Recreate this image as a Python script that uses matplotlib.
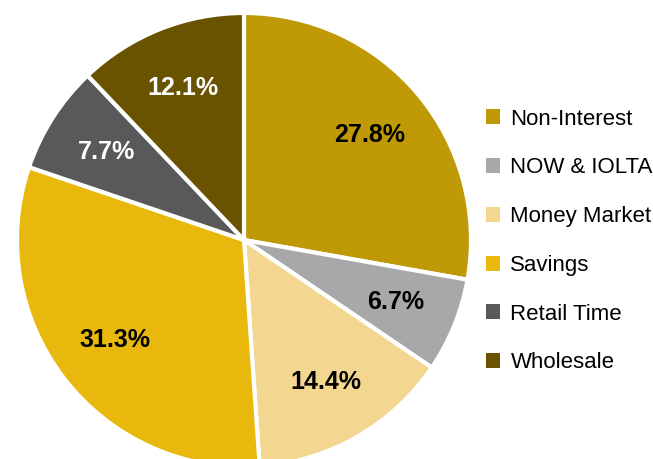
import matplotlib
matplotlib.use("Agg")
import matplotlib.pyplot as plt
from matplotlib.patches import Patch

categories = ["Non-Interest", "NOW & IOLTA", "Money Market", "Savings", "Retail Time", "Wholesale"]
values = [27.8, 6.7, 14.4, 31.3, 7.7, 12.1]
colors = ["#BF9906", "#A8A8AB", "#F3D68F", "#E8B90C", "#59595B", "#6A5300"]
label_colors = ["black", "black", "black", "black", "white", "white"]

plt.rcParams['font.family'] = ['Liberation Sans', 'DejaVu Sans']

fig = plt.figure(figsize=(6.53, 4.59), dpi=100)
W, H = 653, 459
cx, cy, r = 244, 240, 227
ax = fig.add_axes([(cx - r) / W, (H - (cy + r)) / H, 2 * r / W, 2 * r / H])

wedges, texts, autotexts = ax.pie(
    values, colors=colors, startangle=90, counterclock=False, radius=1.0,
    autopct=lambda p: f"{p:.1f}%", pctdistance=0.72,
    wedgeprops=dict(edgecolor="white", linewidth=3),
    textprops=dict(fontsize=18, fontweight="bold"),
)
for t, c in zip(autotexts, label_colors):
    t.set_color(c)
ax.set_xlim(-1, 1)
ax.set_ylim(-1, 1)
ax.axis("off")

handles = [Patch(facecolor=c, edgecolor="none") for c in colors]
fig.legend(handles, categories, loc="center left", bbox_to_anchor=(486 / W, 1 - 241 / H),
           frameon=False, fontsize=16, handlelength=0.65, handleheight=0.65,
           handletextpad=0.45, labelspacing=1.25, borderaxespad=0, borderpad=0)

fig.savefig("out.png", dpi=100)
